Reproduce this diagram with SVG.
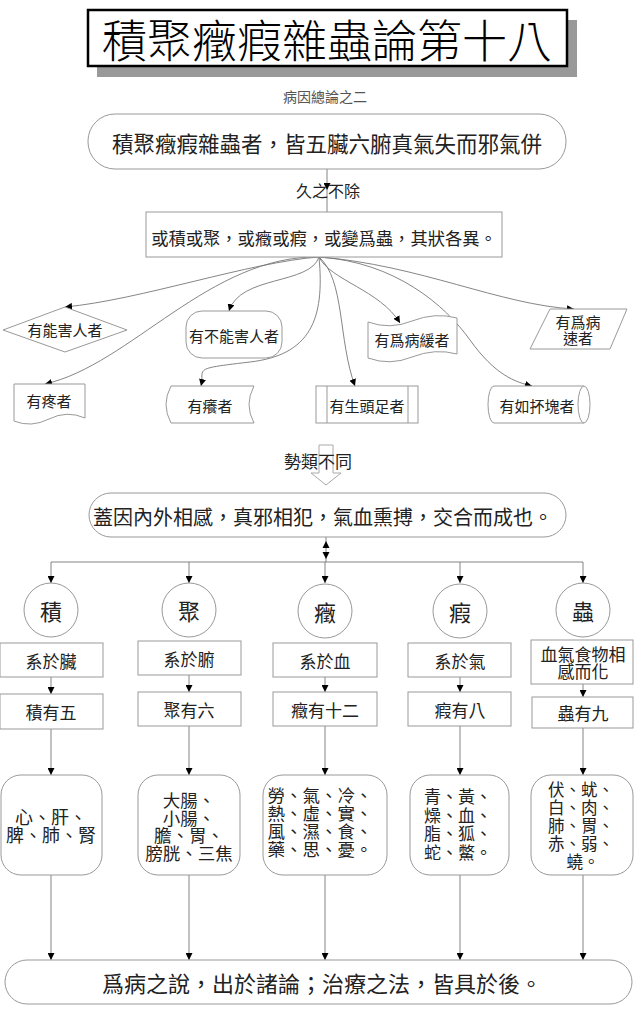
<svg xmlns="http://www.w3.org/2000/svg" width="634" height="1017" viewBox="0 0 634 1017">
<style>
.t{font-family:"Noto Sans CJK TC","Noto Sans CJK SC",sans-serif;fill:#222;text-anchor:middle;dominant-baseline:central}
.s{fill:#fff;stroke:#999;stroke-width:1}
.c{fill:none;stroke:#777;stroke-width:0.9}
.a{marker-end:url(#ah)}
</style>
<defs>
<marker id="ah" viewBox="0 0 10 10" refX="10" refY="5" markerWidth="7" markerHeight="7" markerUnits="userSpaceOnUse" orient="auto"><path d="M0,0 L10,5 L0,10 z" fill="#000"/></marker>
</defs>
<rect width="634" height="1017" fill="#fff"/>

<g id="title">
<rect x="97" y="20" width="480" height="57" fill="#999"/>
<rect x="88" y="10" width="479" height="56" fill="#fff" stroke="#000" stroke-width="2.5"/>
<text class="t" x="327" y="38" font-size="45" font-weight="300" style="fill:#000">積聚癥瘕雜蟲論第十八</text>
</g>
<g id="subtitle"><text class="t" x="325" y="96" font-size="14" style="fill:#555">病因總論之二</text></g>

<g id="connectors">
<path class="c a" d="M327,169 V190"/>
<path class="c" d="M327,190 V212"/>
<path class="c a" d="M319,257 C250,262 140,300 65,307"/>
<path class="c a" d="M319,257 C210,255 130,365 45,384"/>
<path class="c a" d="M319,257 C310,285 240,275 229,311"/>
<path class="c a" d="M319,257 C325,320 310,355 250,362 S205,368 201,386"/>
<path class="c a" d="M319,257 C345,280 338,340 355,386"/>
<path class="c a" d="M319,257 C330,280 380,290 400,323"/>
<path class="c a" d="M319,257 C395,262 445,305 470,340 S515,382 532,386"/>
<path class="c a" d="M319,257 C420,265 500,305 574,309"/>
<path class="c" d="M326,537 V562 M51,562 H583"/>
<polygon points="326,541 322.5,548 329.5,548" fill="#000"/>
<polygon points="326,559 322.5,552 329.5,552" fill="#000"/>
<path class="c a" d="M51,562 V583"/>
<path class="c a" d="M189,562 V583"/>
<path class="c a" d="M325,562 V583"/>
<path class="c a" d="M460,562 V583"/>
<path class="c a" d="M583,562 V583"/>
<path class="c a" d="M51,677 V694"/>
<path class="c a" d="M189,675 V692"/>
<path class="c a" d="M325,677 V692"/>
<path class="c a" d="M460,677 V692"/>
<path class="c a" d="M583,684 V697"/>
<path class="c a" d="M51,729 V775"/>
<path class="c a" d="M189,726 V775"/>
<path class="c a" d="M325,726 V775"/>
<path class="c a" d="M460,726 V775"/>
<path class="c a" d="M583,728 V775"/>
<path class="c a" d="M51,875 V960"/>
<path class="c a" d="M189,875 V960"/>
<path class="c a" d="M325,875 V960"/>
<path class="c a" d="M460,875 V960"/>
<path class="c a" d="M583,875 V960"/>
</g>

<g id="n-intro">
<rect class="s" x="88" y="114" width="478" height="55" rx="27"/>
<text class="t" x="327" y="142" font-size="21.5">積聚癥瘕雜蟲者，皆五臟六腑真氣失而邪氣併</text>
</g>
<g id="l-jiu"><text class="t" x="328" y="190" font-size="16">久之不除</text></g>
<g id="n-forms">
<rect class="s" x="146" y="212" width="356" height="45"/>
<text class="t" x="324" y="237" font-size="17.3">或積或聚，或癥或瘕，或變爲蟲，其狀各異。</text>
</g>

<g id="n-harm">
<polygon class="s" points="3,330 65,307 127,330 65,352"/>
<text class="t" x="65" y="329" font-size="15">有能害人者</text>
</g>
<g id="n-noharm">
<rect class="s" x="186" y="311" width="96" height="47" rx="16"/>
<text class="t" x="234" y="335" font-size="15">有不能害人者</text>
</g>
<g id="n-slow">
<path class="s" d="M368,322 Q390,330 412,321 Q435,312 457,318 V354 Q435,348 412,357 Q390,366 368,358 Z"/>
<text class="t" x="412" y="339" font-size="15">有爲病緩者</text>
</g>
<g id="n-fast">
<polygon class="s" points="550,309 627,309 610,349 530,349"/>
<text class="t" x="578" y="321" font-size="15">有爲病<tspan x="578" dy="16">速者</tspan></text>
</g>
<g id="n-pain">
<path class="s" d="M14,384 H85 V418 Q67,410 49,419 Q31,428 14,421 Z"/>
<text class="t" x="49" y="400" font-size="15">有疼者</text>
</g>
<g id="n-itch">
<path class="s" d="M171,386 H254 Q244,404.5 254,423 H171 Q161,404.5 171,386 Z"/>
<text class="t" x="210" y="405" font-size="15">有癢者</text>
</g>
<g id="n-head">
<rect class="s" x="316" y="386" width="102" height="37"/>
<path class="s" d="M327,386 V423 M408,386 V423"/>
<text class="t" x="367" y="405" font-size="15">有生頭足者</text>
</g>
<g id="n-lump">
<path class="s" d="M494,386 H584 A6,18.5 0 0 1 584,423 H494 A6,18.5 0 0 1 494,386 Z"/>
<path class="s" d="M584,386 A6,18.5 0 0 0 584,423" fill="none"/>
<text class="t" x="537" y="405" font-size="15">有如抔塊者</text>
</g>

<g id="n-diff">
<polygon points="319,445 333,445 333,473 341,473 326,485 311,473 319,473" fill="#fff" stroke="#aaa" stroke-width="1"/>
<text class="t" x="318" y="460" font-size="17">勢類不同</text>
</g>
<g id="n-cause">
<rect class="s" x="89" y="493" width="477" height="44" rx="22"/>
<text class="t" x="323" y="516" font-size="20">蓋因內外相感，真邪相犯，氣血熏搏，交合而成也。</text>
</g>

<g id="col-ji">
<circle class="s" cx="51" cy="610" r="27"/>
<text class="t" x="51" y="610" font-size="22">積</text>
<rect class="s" x="0" y="643" width="103" height="34"/>
<text class="t" x="51" y="660" font-size="17">系於臟</text>
<rect class="s" x="0" y="694" width="103" height="35"/>
<text class="t" x="51" y="711.5" font-size="17">積有五</text>
<rect class="s" x="1" y="775" width="101" height="100" rx="20"/>
<text class="t" x="51" y="816" font-size="18">心、肝、<tspan x="51" dy="18">脾、肺、腎</tspan></text>
</g>
<g id="col-ju">
<circle class="s" cx="189" cy="610" r="27"/>
<text class="t" x="189" y="610" font-size="22">聚</text>
<rect class="s" x="138" y="641" width="103" height="34"/>
<text class="t" x="189" y="658" font-size="17">系於腑</text>
<rect class="s" x="138" y="692" width="103" height="34"/>
<text class="t" x="189" y="709" font-size="17">聚有六</text>
<rect class="s" x="138" y="775" width="102" height="100" rx="20"/>
<text class="t" x="189" y="799" font-size="17.5">大腸、<tspan x="189" dy="17.5">小腸、</tspan><tspan x="189" dy="17.5">膽、胃、</tspan><tspan x="189" dy="17.5">膀胱、三焦</tspan></text>
</g>
<g id="col-zheng">
<circle class="s" cx="325" cy="611" r="27"/>
<text class="t" x="325" y="611" font-size="22">癥</text>
<rect class="s" x="273" y="643" width="104" height="34"/>
<text class="t" x="325" y="660" font-size="17">系於血</text>
<rect class="s" x="273" y="692" width="104" height="34"/>
<text class="t" x="325" y="709" font-size="17">癥有十二</text>
<rect class="s" x="263" y="775" width="124" height="100" rx="20"/>
<text class="t" x="320" y="794" font-size="17.5">勞、氣、冷、<tspan x="320" dy="18">熱、虛、實、</tspan><tspan x="320" dy="18">風、濕、食、</tspan><tspan x="320" dy="18">藥、思、憂。</tspan></text>
</g>
<g id="col-jia">
<circle class="s" cx="460" cy="611" r="27"/>
<text class="t" x="460" y="611" font-size="22">瘕</text>
<rect class="s" x="408" y="643" width="103" height="34"/>
<text class="t" x="460" y="660" font-size="17">系於氣</text>
<rect class="s" x="408" y="692" width="103" height="34"/>
<text class="t" x="460" y="709" font-size="17">瘕有八</text>
<rect class="s" x="410" y="775" width="99" height="100" rx="20"/>
<text class="t" x="458" y="795" font-size="17">青、黃、<tspan x="458" dy="18.5">燥、血、</tspan><tspan x="458" dy="18.5">脂、狐、</tspan><tspan x="458" dy="18.5">蛇、鱉。</tspan></text>
</g>
<g id="col-chong">
<circle class="s" cx="583" cy="610" r="27"/>
<text class="t" x="583" y="610" font-size="22">蟲</text>
<rect class="s" x="531" y="640" width="102" height="44"/>
<text class="t" x="583" y="653" font-size="17">血氣食物相<tspan x="583" dy="17">感而化</tspan></text>
<rect class="s" x="532" y="697" width="101" height="31"/>
<text class="t" x="583" y="712.5" font-size="17">蟲有九</text>
<rect class="s" x="531" y="775" width="102" height="100" rx="20"/>
<text class="t" x="581" y="789" font-size="16.5">伏、蚘、<tspan x="581" dy="18">白、肉、</tspan><tspan x="581" dy="18">肺、胃、</tspan><tspan x="581" dy="18">赤、弱、</tspan><tspan x="583" dy="18">蟯。</tspan></text>
</g>

<g id="n-end">
<rect class="s" x="5" y="960" width="627" height="44" rx="22"/>
<text class="t" x="322" y="982" font-size="22">爲病之說，出於諸論；治療之法，皆具於後。</text>
</g>
</svg>
